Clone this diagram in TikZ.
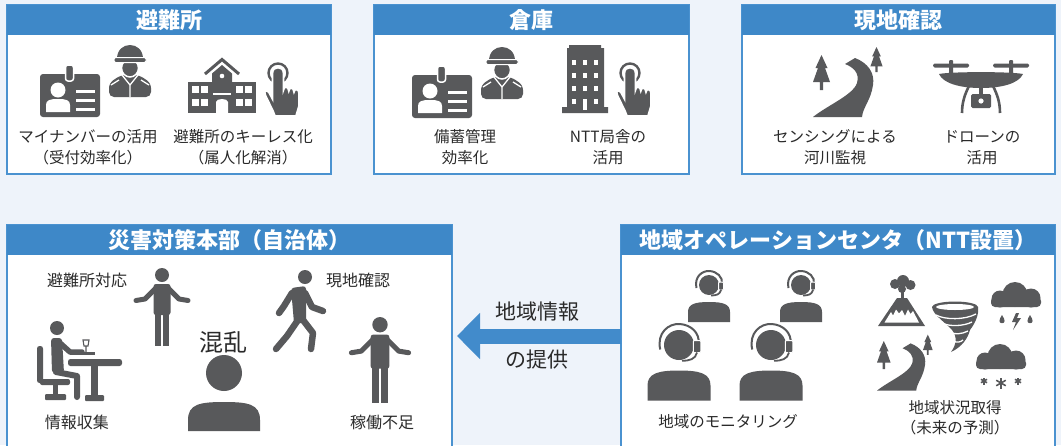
\documentclass[tikz,border=0pt]{standalone}
\usepackage{fontspec}
\setmainfont{Noto Sans CJK JP}
\usetikzlibrary{arrows.meta}

\definecolor{pagebg}{HTML}{EEF3FA}
\definecolor{headblue}{HTML}{3E88C8}
\definecolor{frameblue}{HTML}{4A92D0}
\definecolor{arrowblue}{HTML}{428BCB}
\definecolor{icongray}{HTML}{58595B}
\definecolor{textdark}{HTML}{2A2A2A}

% id card with portrait and text lines, #1 = top left corner
\newcommand{\iconcard}[1]{%
  \begin{scope}[shift={(#1)}, color=icongray]
    \fill[rounded corners=3] (0,0) rectangle (60,43);
    \filldraw[draw=white, line width=1.5, rounded corners=2.5] (25.5,-9) rectangle (33.5,7);
    \fill[white] (18,16) circle (7.5);
    \fill[white] (6,38) -- (6,31) .. controls (6,26) and (10,25) .. (18,25) .. controls (26,25) and (30,26) .. (30,31) -- (30,38) -- cycle;
    \foreach \ly in {15.5,24.5,33.5}
      \fill[white] (36,\ly) rectangle (55,\ly+3);
  \end{scope}}

% worker with helmet, #1 = top centre
\newcommand{\iconsoldier}[1]{%
  \begin{scope}[shift={(#1)}, color=icongray]
    \fill[rounded corners=5] (-21,52) -- (-21,38) -- (-9,30) -- (9,30) -- (21,38) -- (21,52) -- cycle;
    \draw[white, line width=1.3] (-8,30) -- (0,40) -- (8,30) (0,40) -- (0,52) (-19,40) -- (-11,35) (19,40) -- (11,35);
    \filldraw[draw=white, line width=1.5] (0,23) ellipse (8.5 and 9);
    \fill (-13,14) .. controls (-13,5) and (-7,0) .. (0,0) .. controls (7,0) and (13,5) .. (13,14) -- cycle;
    \filldraw[draw=white, line width=1, rounded corners=1.5] (-16,12.5) rectangle (16,17.5);
  \end{scope}}

% tapping hand, #1 = centre of the ring
\newcommand{\iconhand}[1]{%
  \begin{scope}[shift={(#1)}, color=icongray]
    \draw[line width=2.4] (0,0) circle (9.5);
    \filldraw[draw=white, line width=1.8] (-5.5,0) -- (-5.5,26) -- (-9,19.5) .. controls (-11,16) and (-15,18) .. (-12.5,22.5) -- (-5,38) -- (-3,43) -- (18,43) -- (21,33) -- (21,20) .. controls (21,15.5) and (16,15.5) .. (16,19) .. controls (16,14) and (10.8,14) .. (10.8,18) .. controls (10.8,13) and (5.5,13) .. (5.5,17) -- (5.5,0) .. controls (5.5,-7.3) and (-5.5,-7.3) .. (-5.5,0) -- cycle;
  \end{scope}}

% school building, #1 = top centre
\newcommand{\iconschool}[1]{%
  \begin{scope}[shift={(#1)}, color=icongray]
    \draw[line width=3] (-17,17) -- (0,2.5) -- (17,17);
    \fill (0,8) -- (10,16.5) -- (10,26) -- (-10,26) -- (-10,16.5) -- cycle;
    \fill (-34,25) rectangle (34,56);
    \fill[white] (0,19) circle (2.3);
    \foreach \wx in {-30,-21,14,23}
      \foreach \wy in {29,41.5}
        \fill[white] (\wx,\wy) rectangle (\wx+7,\wy+7);
    \fill[white] (-9,35.5) rectangle (9,37.5);
    \fill[white] (-6,56) -- (-6,45) .. controls (-6,41) and (6,41) .. (6,45) -- (6,56) -- cycle;
  \end{scope}}

% office tower, #1 = top centre
\newcommand{\icontower}[1]{%
  \begin{scope}[shift={(#1)}, color=icongray]
    \fill (-16,0) -- (16,0) -- (16,3) -- (19,3) -- (19,62) -- (23,62) -- (23,68) -- (-23,68) -- (-23,62) -- (-18,62) -- (-18,3) -- (-16,3) -- cycle;
    \foreach \wx in {-11,0,11}
      \foreach \wy in {15,28,41}
        \fill[white] (\wx-2.3,\wy) rectangle (\wx+2.3,\wy+4.6);
    \foreach \wx in {-11,11}
      \fill[white] (\wx-2.3,54) rectangle (\wx+2.3,58.6);
    \fill[white] (-2.3,54) rectangle (2.3,65);
  \end{scope}}

% pine tree, #1 = tip, #2 = scale
\newcommand{\icontree}[2]{%
  \begin{scope}[shift={(#1)}, scale=#2, color=icongray]
    \fill (0,0) -- (-6,13) -- (-3.5,13) -- (-8.5,27) -- (-1.6,27) -- (-1.6,35) -- (1.6,35) -- (1.6,27) -- (8.5,27) -- (3.5,13) -- (6,13) -- cycle;
  \end{scope}}

% river between two trees, #1 = top left, #2 = scale
\newcommand{\iconriver}[2]{%
  \begin{scope}[shift={(#1)}, scale=#2, color=icongray]
    \icontree{8.5,10}{1}
    \icontree{63.5,2}{0.72}
    \fill (0,72) .. controls (15,60) and (40,50) .. (44,38) .. controls (47,28) and (40,22) .. (32,19) -- (42,13) .. controls (55,18) and (62,28) .. (60,40) .. controls (58,55) and (50,62) .. (49,72) -- cycle;
  \end{scope}}

% drone, #1 = top centre
\newcommand{\icondrone}[1]{%
  \begin{scope}[shift={(#1)}, color=icongray]
    \fill[rounded corners=1.5] (-48,3.5) rectangle (-12,7.5);
    \fill[rounded corners=1.5] (12,3.5) rectangle (48,7.5);
    \fill[rounded corners=1] (-32,0) rectangle (-28,15);
    \fill[rounded corners=1] (28,0) rectangle (32,15);
    \fill (-42,14) .. controls (-30,11.5) and (30,11.5) .. (42,14) .. controls (38,23) and (22,28) .. (0,28) .. controls (-22,28) and (-38,23) .. (-42,14) -- cycle;
    \draw[line width=2.6] (-12,26) .. controls (-16,34) and (-19,42) .. (-19,53);
    \draw[line width=2.6] (12,26) .. controls (16,34) and (19,42) .. (19,53);
    \fill (-2,27) rectangle (2,35);
    \fill[rounded corners=1.5] (-10,34) rectangle (10,48);
    \fill[white] (0,41) circle (2.6);
  \end{scope}}

% standing person, arms open, #1 = top centre, #2 = scale
\newcommand{\iconshrug}[2]{%
  \begin{scope}[shift={(#1)}, scale=#2, color=icongray]
    \fill (0,7) circle (7);
    \fill[rounded corners=2.5] (-8.5,16) rectangle (8.5,47);
    \fill (-7,44) rectangle (-0.8,78);
    \fill (0.8,44) rectangle (7,78);
    \draw[line width=5, line cap=round, line join=round] (-6,20) -- (-17,31) -- (-26,32.5) (6,20) -- (17,31) -- (26,32.5);
  \end{scope}}

% operator with headset, #1 = head centre, #2 = scale
\newcommand{\iconagent}[2]{%
  \begin{scope}[shift={(#1)}, scale=#2, color=icongray]
    \fill (0,0) circle (10);
    \draw[line width=2] (-12.5,3) .. controls (-15,-8) and (-7,-14.5) .. (0.5,-14) .. controls (8,-13.5) and (14,-8) .. (13,-1);
    \filldraw[draw=white, line width=1, rounded corners=1] (9.5,-3) rectangle (14.5,5);
    \draw[line width=1.8] (12,5) .. controls (11,9.5) and (7,10.5) .. (2,10.5);
    \fill (-21,37) -- (-21,27) .. controls (-21,19) and (-14,17) .. (0,17) .. controls (14,17) and (21,19) .. (21,27) -- (21,37) -- cycle;
  \end{scope}}

% cloud, #1 = bottom left
\newcommand{\iconcloud}[1]{%
  \begin{scope}[shift={(#1)}, color=icongray]
    \fill (9,-8) circle (8.5);
    \fill (24,-12.5) circle (12.5);
    \fill (40,-9) circle (9.5);
    \fill[rounded corners=4] (0,-10) rectangle (50,0);
  \end{scope}}

\newcommand{\icondrop}[1]{%
  \fill[icongray, shift={(#1)}] (0,-5) .. controls (-3.4,0) and (-3.4,3.2) .. (0,3.2) .. controls (3.4,3.2) and (3.4,0) .. (0,-5);}

\newcommand{\iconflake}[2]{%
  \foreach \a in {90,30,-30}
    \draw[icongray, line width=1.6, shift={(#1)}] (\a:#2) -- (\a+180:#2);}

\begin{document}
\begin{tikzpicture}[x=1pt, y=-1pt,
  panel/.style={draw=frameblue, line width=1.2pt, fill=white, inner sep=0pt, outer sep=0pt, anchor=north west},
  header/.style={fill=headblue, text=white, minimum height=30pt, inner sep=0pt, outer sep=0pt, anchor=north west,
    font=\fontsize{22}{24}\selectfont\bfseries},
  txt/.style={text=textdark, align=center, inner sep=0pt, font=\fontsize{15.5}{21}\selectfont},
  tag/.style={text=textdark, inner sep=0pt, font=\fontsize{16}{18}\selectfont},
  limb/.style={line width=6.5pt, line cap=round, line join=round},
  infoarrow/.style={draw=arrowblue, line width=15pt, -{Triangle[width=45pt,length=23pt]}, shorten >=5pt}]

\fill[pagebg] (0,0) rectangle (1061,445);
\useasboundingbox (0,0) rectangle (1061,445);

% top row
\node[panel, minimum width=324pt, minimum height=169pt] (shelter) at (7,5) {};
\node[header, minimum width=324pt] (shelter-head) at (7,5) {避難所};
\node[panel, minimum width=315pt, minimum height=169pt] (depot) at (374,5) {};
\node[header, minimum width=315pt] (depot-head) at (374,5) {倉庫};
\node[panel, minimum width=313pt, minimum height=169pt] (site) at (742,5) {};
\node[header, minimum width=313pt] (site-head) at (742,5) {現地確認};

\iconcard{40,74}
\iconsoldier{130,45}
\iconschool{222,57}
\iconhand{278,73}
\node[txt] (mynumber) at (88,147.5) {マイナンバーの活用\\（受付効率化）};
\node[txt] (keyless) at (243,147.5) {避難所のキーレス化\\（属人化解消）};

\iconcard{412,75}
\iconsoldier{502,47}
\icontower{585,45}
\iconhand{630,73}
\node[txt] (stock) at (465,147.5) {備蓄管理\\効率化};
\node[txt] (office) at (608,147.5) {NTT局舎の\\活用};

\iconriver{813,45}{1}
\icondrone{981,60}
\node[txt] (sensing) at (835,147.5) {センシングによる\\河川監視};
\node[txt] (drone) at (982,147.5) {ドローンの\\活用};

% bottom row
\node[panel, minimum width=445pt, minimum height=222pt] (hq) at (7,225) {};
\node[header, minimum width=445pt] (hq-head) at (7,225) {災害対策本部（自治体）};
\node[panel, minimum width=434pt, minimum height=222pt] (ops) at (621,225) {};
\node[header, minimum width=434pt] (ops-head) at (621,225) {地域オペレーションセンタ（NTT設置）};

\draw[infoarrow] (ops.west) -- (hq.east);
\node[text=textdark, font=\fontsize{21}{24}\selectfont] (info) at (537,312) {地域情報};
\node[text=textdark, font=\fontsize{21}{24}\selectfont] (offer) at (537,360) {の提供};

% headquarters staff
\iconshrug{162,268}{1}
\iconshrug{380,317}{1.1}
\begin{scope}[color=icongray]
  % walking
  \fill (305,277) circle (7);
  \fill[rounded corners=3] (291,288) -- (306,286) -- (306,323) -- (294,323) -- cycle;
  \draw[limb] (292,293) -- (284,306) -- (279,313);
  \draw[limb] (305,293) -- (312,307) -- (323,311);
  \draw[limb] (298,320) -- (287,336) -- (276,349);
  \draw[limb] (303,320) -- (313,333) -- (311,349);
  % at the desk
  \fill (57,328) circle (7);
  \fill[rounded corners=3] (51,338) -- (62,338) -- (64,373) -- (52,373) -- cycle;
  \draw[limb, line width=5.5pt] (60,343) -- (70,352) -- (82,352);
  \draw[limb, line width=6pt] (56,372) -- (77,376) -- (77,397);
  \fill[rounded corners=2.5] (37,346) rectangle (43,383);
  \fill[rounded corners=2] (40,379) rectangle (70,385);
  \fill (53,385) rectangle (58,395);
  \fill[rounded corners=1] (45,394) rectangle (66,400);
  \fill[rounded corners=2.5] (68,359) rectangle (122,366);
  \fill (91,366) rectangle (98,396);
  \fill[rounded corners=1] (85,395) rectangle (104,401);
  \draw[line width=1.1] (83,340) -- (84,346) -- (88,346) -- (89,340) -- cycle (86,346) -- (86,352);
  \fill (81,352) rectangle (95,354.5);
  % person in the middle
  \fill (224,373) circle (18);
  \fill (188,431) -- (188,420) .. controls (188,404) and (200,402) .. (224,402) .. controls (248,402) and (260,404) .. (260,420) -- (260,431) -- cycle;
\end{scope}
\node[tag] (shelter-duty) at (87,280) {避難所対応};
\node[tag] (site-duty) at (358,280) {現地確認};
\node[tag] (gathering) at (77,422) {情報収集};
\node[tag] (shortage) at (382,422) {稼働不足};
\node[text=textdark, inner sep=0pt, font=\fontsize{24}{26}\selectfont] (chaos) at (223,342) {混乱};

% operation centre
\iconagent{709,285}{1}
\iconagent{801,285}{1}
\iconagent{679,345}{1.5}
\iconagent{771,345}{1.5}
\node[txt] (monitor) at (728,422) {地域のモニタリング};

\begin{scope}[color=icongray]
  % volcano
  \fill (895,284) circle (5);
  \fill (903,281) circle (6);
  \fill (910.5,285) circle (5);
  \fill (902,289) circle (4);
  \fill (900.5,288) rectangle (903.5,299);
  \fill (878,326) -- (897,298) -- (907,298) -- (925,326) -- cycle;
  \fill[white] (884.5,322.5) -- (891,312) -- (893,315.5) -- (896,309.5) -- (899,313.5) -- (902,310) -- (905,316) -- (908,309.5) -- (910.5,314) -- (913,311) -- (919,322.5) -- cycle;
  % tornado
  \fill (932,307) .. controls (933,315) and (945,322) .. (952,330) .. controls (957,336) and (957,344) .. (951,352) .. controls (962,347) and (968,338) .. (970,330) .. controls (976,322) and (979,314) .. (978,307) -- cycle;
  \fill (955,307) ellipse (23 and 5.5);
  \fill[white] (955,307) ellipse (19 and 3);
  \draw[white, line width=1.3] (936,315) .. controls (945,320) and (965,320) .. (976,314)
    (942,323) .. controls (950,327) and (964,326) .. (972,322)
    (949,332) .. controls (955,335) and (962,334) .. (968,331)
    (953,341) .. controls (957,343) and (961,342) .. (963,340);
  % lightning and rain
  \fill (1016,313) -- (1012,322) -- (1016,322) -- (1013,330) -- (1021,318) -- (1017,318) -- (1019,313) -- cycle;
\end{scope}
\iconcloud{991,307}
\icondrop{1002,320}
\icondrop{1030,320}
\iconriver{877,333}{0.8}
\iconcloud{976,369}
\iconflake{984,381}{3.5}
\iconflake{1001,383}{5.5}
\iconflake{1018,381}{3.5}
\node[txt, font=\fontsize{15.5}{20}\selectfont] (forecast) at (955,418) {地域状況取得\\（未来の予測）};

\end{tikzpicture}
\end{document}
